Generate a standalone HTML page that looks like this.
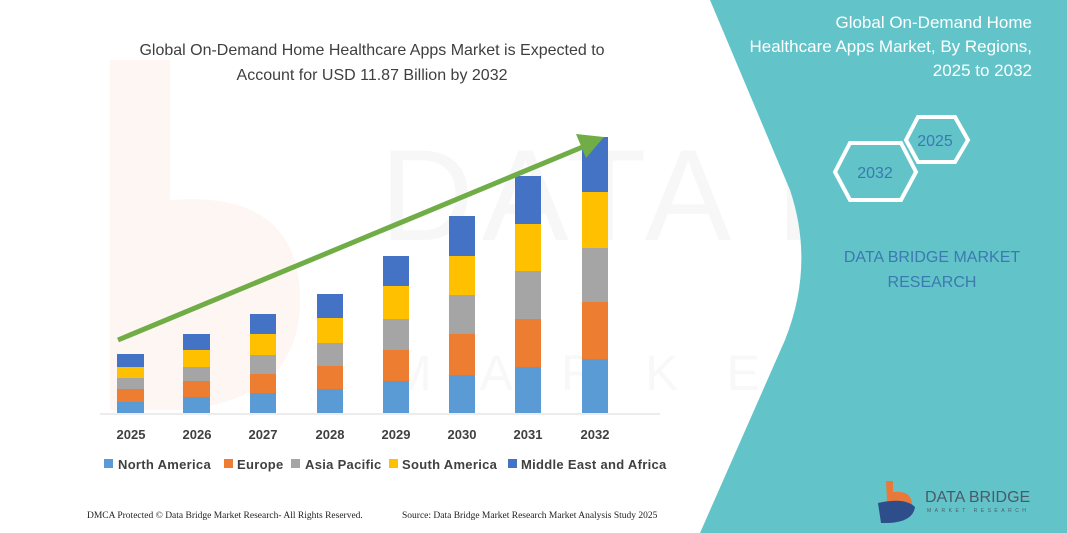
<!DOCTYPE html>
<html><head><meta charset="utf-8"><style>
html,body{margin:0;padding:0;background:#fff}
svg{display:block}
text{font-family:"Liberation Sans",sans-serif}
</style></head><body>
<svg width="1067" height="533" viewBox="0 0 1067 533" xmlns="http://www.w3.org/2000/svg">
<rect width="1067" height="533" fill="#fff"/>
<!-- watermark -->
<text x="380" y="240" font-size="130" fill="#f7f7f7" letter-spacing="8">DATA BRIDGE</text>
<text x="390" y="390" font-size="50" fill="#f8f8f8" letter-spacing="48">MARKET RESEARCH</text>
<path d="M110,60 L170,60 L170,200 Q300,190 300,300 Q300,400 180,410 L110,410 Z" fill="#fef6f2"/>
<!-- teal panel -->
<path d="M710,0 L1067,0 L1067,533 L700,533 L785,340 Q815,265 790,190 Z" fill="#62c4c9"/>
<text font-size="17" fill="#fff" text-anchor="end"><tspan x="1032" y="28">Global On-Demand Home</tspan><tspan x="1032" y="52">Healthcare Apps Market, By Regions,</tspan><tspan x="1032" y="76">2025 to 2032</tspan></text>
<polygon points="906,140 918,117 955,117 968,140 955,162 918,162" fill="none" stroke="#fff" stroke-width="4"/>
<text x="935" y="146" font-size="16" fill="#3b7ab0" text-anchor="middle">2025</text>
<polygon points="835,172 850,143 901,143 916,172 901,200 850,200" fill="none" stroke="#fff" stroke-width="4"/>
<text x="875" y="178" font-size="16" fill="#3b7ab0" text-anchor="middle">2032</text>
<text font-size="16" fill="#3b7ab0" text-anchor="middle"><tspan x="932" y="262">DATA BRIDGE MARKET</tspan><tspan x="932" y="287">RESEARCH</tspan></text>
<path d="M886,481 L893,481 L893,492 Q912,490 912,505 Q910,521 885,521 Q877,515 887,500" fill="#e8793a"/>
<path d="M878,503 Q905,497 915,507 Q913,522 888,523 L881,523 Z" fill="#2d4e8a"/>
<text x="925" y="502" font-size="16" fill="#4a5a6a">DATA BRIDGE</text>
<text x="927" y="512" font-size="5" fill="#4a5a6a" letter-spacing="3.5">MARKET RESEARCH</text>
<!-- title -->
<text font-size="16" fill="#3f3f3f" text-anchor="middle"><tspan x="372" y="55">Global On-Demand Home Healthcare Apps Market is Expected to</tspan><tspan x="372" y="80">Account for USD 11.87 Billion by 2032</tspan></text>
<line x1="100" y1="414" x2="660" y2="414" stroke="#d9d9d9" stroke-width="1"/>
<!-- bars -->
<g>
<rect x="117" y="402" width="27" height="11" fill="#5b9bd5"/><rect x="117" y="389" width="27" height="13" fill="#ed7d31"/><rect x="117" y="378" width="27" height="11" fill="#a5a5a5"/><rect x="117" y="367" width="27" height="11" fill="#ffc000"/><rect x="117" y="354" width="27" height="13" fill="#4472c4"/>
<rect x="183" y="397" width="27" height="16" fill="#5b9bd5"/><rect x="183" y="381" width="27" height="16" fill="#ed7d31"/><rect x="183" y="367" width="27" height="14" fill="#a5a5a5"/><rect x="183" y="350" width="27" height="17" fill="#ffc000"/><rect x="183" y="334" width="27" height="16" fill="#4472c4"/>
<rect x="250" y="393" width="26" height="20" fill="#5b9bd5"/><rect x="250" y="374" width="26" height="19" fill="#ed7d31"/><rect x="250" y="355" width="26" height="19" fill="#a5a5a5"/><rect x="250" y="334" width="26" height="21" fill="#ffc000"/><rect x="250" y="314" width="26" height="20" fill="#4472c4"/>
<rect x="317" y="389" width="26" height="24" fill="#5b9bd5"/><rect x="317" y="366" width="26" height="23" fill="#ed7d31"/><rect x="317" y="343" width="26" height="23" fill="#a5a5a5"/><rect x="317" y="318" width="26" height="25" fill="#ffc000"/><rect x="317" y="294" width="26" height="24" fill="#4472c4"/>
<rect x="383" y="381" width="26" height="32" fill="#5b9bd5"/><rect x="383" y="350" width="26" height="31" fill="#ed7d31"/><rect x="383" y="319" width="26" height="31" fill="#a5a5a5"/><rect x="383" y="286" width="26" height="33" fill="#ffc000"/><rect x="383" y="256" width="26" height="30" fill="#4472c4"/>
<rect x="449" y="375" width="26" height="38" fill="#5b9bd5"/><rect x="449" y="334" width="26" height="41" fill="#ed7d31"/><rect x="449" y="295" width="26" height="39" fill="#a5a5a5"/><rect x="449" y="256" width="26" height="39" fill="#ffc000"/><rect x="449" y="216" width="26" height="40" fill="#4472c4"/>
<rect x="515" y="367" width="26" height="46" fill="#5b9bd5"/><rect x="515" y="319" width="26" height="48" fill="#ed7d31"/><rect x="515" y="271" width="26" height="48" fill="#a5a5a5"/><rect x="515" y="224" width="26" height="47" fill="#ffc000"/><rect x="515" y="176" width="26" height="48" fill="#4472c4"/>
<rect x="582" y="359" width="26" height="54" fill="#5b9bd5"/><rect x="582" y="302" width="26" height="57" fill="#ed7d31"/><rect x="582" y="248" width="26" height="54" fill="#a5a5a5"/><rect x="582" y="192" width="26" height="56" fill="#ffc000"/><rect x="582" y="137" width="26" height="55" fill="#4472c4"/>
</g>
<!-- arrow -->
<line x1="118" y1="340" x2="585" y2="146" stroke="#70ad47" stroke-width="5"/>
<polygon points="604,137 576,134 586,158" fill="#70ad47"/>
<!-- x labels -->
<g font-size="13" font-weight="bold" fill="#404040" text-anchor="middle">
<text x="131" y="439">2025</text><text x="197" y="439">2026</text><text x="263" y="439">2027</text><text x="330" y="439">2028</text><text x="396" y="439">2029</text><text x="462" y="439">2030</text><text x="528" y="439">2031</text><text x="595" y="439">2032</text>
</g>
<!-- legend -->
<g font-size="13" font-weight="bold" fill="#404040" letter-spacing="0.3">
<rect x="104" y="459" width="9" height="9" fill="#5b9bd5"/><text x="118" y="469">North America</text>
<rect x="224" y="459" width="9" height="9" fill="#ed7d31"/><text x="237" y="469">Europe</text>
<rect x="291" y="459" width="9" height="9" fill="#a5a5a5"/><text x="305" y="469">Asia Pacific</text>
<rect x="389" y="459" width="9" height="9" fill="#ffc000"/><text x="402" y="469">South America</text>
<rect x="508" y="459" width="9" height="9" fill="#4472c4"/><text x="521" y="469">Middle East and Africa</text>
</g>
<g font-size="9.5" fill="#222">
<text x="87" y="518" style="font-family:'Liberation Serif',serif">DMCA Protected © Data Bridge Market Research-  All Rights Reserved.</text>
<text x="402" y="518" style="font-family:'Liberation Serif',serif">Source:  Data Bridge Market Research  Market Analysis Study 2025</text>
</g>
</svg>
</body></html>
